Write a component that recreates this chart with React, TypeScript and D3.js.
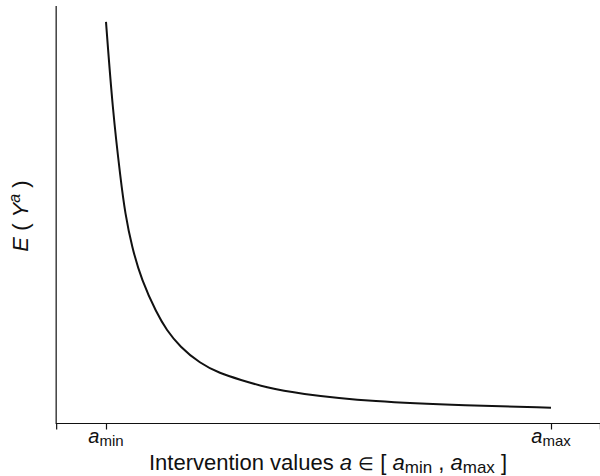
import React, { useEffect, useRef } from 'react';
import * as d3 from 'd3';

// intervention value (0 = a_min, 100 = a_max) and expected outcome E(Y^a)
const aValues = [0, 1.5, 3.3, 4.3, 5.8, 8.0, 11.4, 13.6, 16.6, 21.1, 25.6, 30.1, 36.1, 42.9, 60, 81.1, 100];
const eyValues = [96.2, 75.1, 58.4, 50.4, 42.4, 34.4, 26.5, 22.5, 18.5, 14.5, 12.1, 10.6, 8.7, 7.3, 5.3, 4.4, 3.9];
const tickVals = [-11.2, 0, 100, 111];
const tickLabels = ['', 'min', 'max', ''];

export default function App() {
  const svgRef = useRef<SVGSVGElement>(null);

  useEffect(() => {
    const width = 600;
    const height = 476;
    const svg = d3.select(svgRef.current);
    svg.selectAll('*').remove();

    const font = '"Liberation Sans", Arial, Helvetica, sans-serif';

    const x = d3.scaleLinear().domain([0, 100]).range([106, 551]);
    const y = d3.scaleLinear().domain([0, 100]).range([424, 6]);

    // curve
    const data = aValues.map((a, i) => ({ a, ey: eyValues[i] }));
    const line = d3.line<{ a: number; ey: number }>()
      .x(d => x(d.a))
      .y(d => y(d.ey))
      .curve(d3.curveBasis);

    svg.append('path')
      .datum(data)
      .attr('d', line)
      .attr('fill', 'none')
      .attr('stroke', '#111')
      .attr('stroke-width', 2);

    // x axis
    const xAxis = svg.append('g')
      .attr('transform', `translate(0,${y(0) - 0.5})`)
      .call(
        d3.axisBottom(x)
          .tickValues(tickVals)
          .tickSize(6)
          .tickSizeOuter(0)
          .tickFormat(() => '')
      );
    xAxis.select('.domain')
      .attr('d', `M${x(tickVals[0])},0H${x(tickVals[3])}`)
      .attr('stroke', '#111')
      .attr('stroke-width', 1.2);
    xAxis.selectAll('.tick line').attr('stroke', '#111').attr('stroke-width', 1.2);

    tickVals.forEach((v, i) => {
      if (!tickLabels[i]) return;
      const t = svg.append('text')
        .attr('x', x(v))
        .attr('y', 443)
        .attr('text-anchor', 'middle')
        .style('font-family', font)
        .style('font-size', '20px')
        .attr('fill', '#111');
      t.append('tspan').style('font-style', 'italic').text('a');
      t.append('tspan').attr('dy', 3).style('font-size', '15px').text(tickLabels[i]);
    });

    // y axis line
    svg.append('line')
      .attr('x1', x(tickVals[0]))
      .attr('x2', x(tickVals[0]))
      .attr('y1', y(100))
      .attr('y2', y(0))
      .attr('stroke', '#111')
      .attr('stroke-width', 1.2);

    // x title
    const xt = svg.append('text')
      .attr('x', (x(tickVals[0]) + x(tickVals[3])) / 2)
      .attr('y', 470)
      .attr('text-anchor', 'middle')
      .style('font-family', font)
      .style('font-size', '22px')
      .attr('fill', '#111');
    xt.append('tspan').text('Intervention values ');
    xt.append('tspan').style('font-style', 'italic').text('a');
    xt.append('tspan').text(' ');
    xt.append('tspan').style('font-size', '18px').text('\u2208');
    xt.append('tspan').text(' [ ');
    xt.append('tspan').style('font-style', 'italic').text('a');
    xt.append('tspan').attr('dy', 3).style('font-size', '17px').text('min');
    xt.append('tspan').attr('dy', -3).text(' , ');
    xt.append('tspan').style('font-style', 'italic').text('a');
    xt.append('tspan').attr('dy', 3).style('font-size', '17px').text('max');
    xt.append('tspan').attr('dy', -3).text(' ]');

    // y title
    const yt = svg.append('text')
      .attr('transform', `translate(28,216) rotate(-90)`)
      .attr('text-anchor', 'middle')
      .style('font-family', font)
      .style('font-size', '22px')
      .attr('fill', '#111');
    yt.append('tspan').style('font-style', 'italic').text('E');
    yt.append('tspan').text(' ( ');
    yt.append('tspan').style('font-style', 'italic').text('Y');
    yt.append('tspan').attr('dy', -8).style('font-size', '16px').style('font-style', 'italic').text('a');
    yt.append('tspan').attr('dy', 8).text(' )');

    svg.attr('width', width).attr('height', height);
  }, []);

  return (
    <svg ref={svgRef} style={{ position: 'absolute', left: 0, top: 0 }}></svg>
  );
}
